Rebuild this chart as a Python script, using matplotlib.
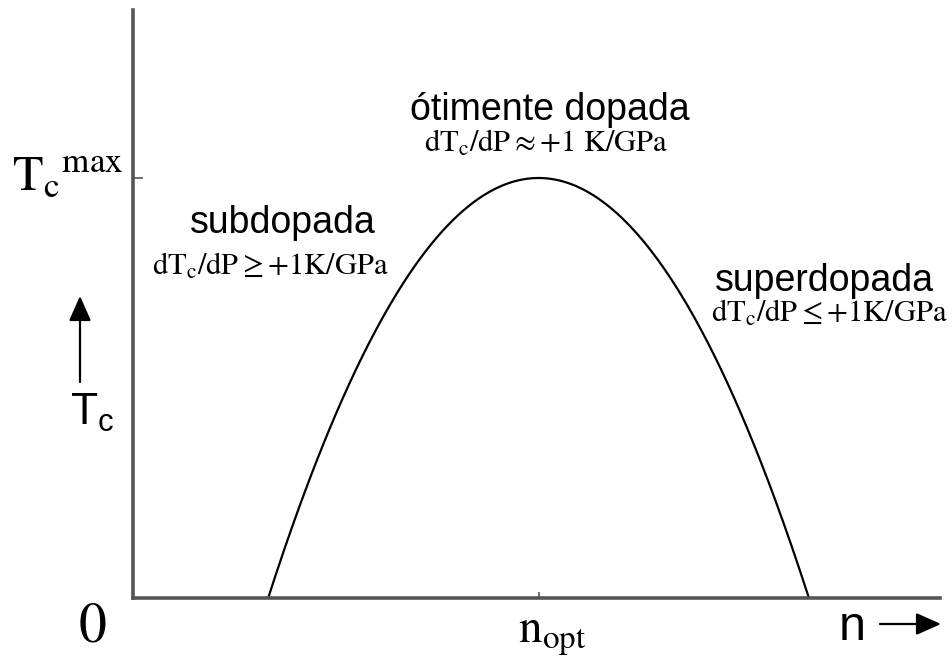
import matplotlib

matplotlib.use("Agg")
import matplotlib.pyplot as plt
import numpy as np

# Dome of T_c versus carrier concentration n (units of n_opt, T_c^max)
n_onset = 1 / 3      # T_c appears
n_opt = 1.0          # optimal doping
n_end = 5 / 3        # T_c vanishes
tc_max = 1.0

regions = ["subdopada", "ótimente dopada", "superdopada"]
slopes = [r"$\mathrm{dT_c/dP} \geq {+}1\mathrm{K/GPa}$",
          r"$\mathrm{dT_c/dP} \approx {+}1\ \mathrm{K/GPa}$",
          r"$\mathrm{dT_c/dP} \leq {+}1\mathrm{K/GPa}$"]

plt.rcParams["font.family"] = ["Liberation Sans", "DejaVu Sans"]
plt.rcParams["mathtext.fontset"] = "custom"
plt.rcParams["mathtext.rm"] = "Liberation Sans"
plt.rcParams["mathtext.it"] = "Liberation Sans:italic"

W, H = 952, 668
fig = plt.figure(figsize=(W / 100, H / 100), dpi=100)


def fx(x):
    return x / W


def fy(y):
    return 1 - y / H


ax = fig.add_axes([fx(133), fy(598), fx(940) - fx(133), fy(10) - fy(598)])
ax.set_xlim(0, 1.99)
ax.set_ylim(0, 1.4)

n = np.linspace(n_onset, n_end, 400)
half = (n_end - n_onset) / 2
tc = tc_max * (1 - ((n - n_opt) / half) ** 2)
ax.plot(n, tc, color="black", lw=1.6)

for side in ("top", "right"):
    ax.spines[side].set_visible(False)
for side in ("left", "bottom"):
    ax.spines[side].set_linewidth(2.6)
    ax.spines[side].set_color("#555555")

ax.set_xticks([n_opt])
ax.set_yticks([tc_max])
ax.tick_params(axis="y", direction="in", length=7, width=1.2, color="#555555",
               labelleft=False)
ax.tick_params(axis="x", direction="in", length=4, width=1.2, color="#555555",
               labelbottom=False)

serif = dict(math_fontfamily="stix", color="black")

# axis labels
fig.text(fx(12), fy(190), r"${\mathrm{T_c}}^{\mathrm{max}}$", fontsize=36,
         ha="left", va="baseline", **serif)
fig.text(fx(92), fy(641), r"$\mathrm{0}$", fontsize=40, ha="center",
         va="baseline", **serif)
fig.text(fx(552), fy(642), r"$\mathrm{n_{opt}}$", fontsize=34, ha="center",
         va="baseline", **serif)
fig.text(fx(92), fy(425), r"$\mathrm{T_c}$", fontsize=32, ha="center",
         va="baseline")
fig.text(fx(852), fy(640), "n", fontsize=35, ha="center", va="baseline")

arrow_kw = dict(arrowstyle="-|>,head_length=0.9,head_width=0.4",
                color="black", lw=1.6, shrinkA=0, shrinkB=0,
                mutation_scale=17, transform=fig.transFigure)
fig.add_artist(matplotlib.patches.FancyArrowPatch(
    (fx(880), fy(624)), (fx(941), fy(624)), **arrow_kw))
fig.add_artist(matplotlib.patches.FancyArrowPatch(
    (fx(80), fy(382)), (fx(80), fy(296)), **arrow_kw))

# doping regime labels
label_pos = [(283, 233, 270, 275), (550, 120, 546, 152), (824, 291, 829, 322)]
for name, slope, (x1, y1, x2, y2) in zip(regions, slopes, label_pos):
    fig.text(fx(x1), fy(y1), name, fontsize=27, ha="center", va="baseline")
    fig.text(fx(x2), fy(y2), slope, fontsize=22, ha="center", va="baseline",
             **serif)

fig.savefig("out.png", dpi=100)
